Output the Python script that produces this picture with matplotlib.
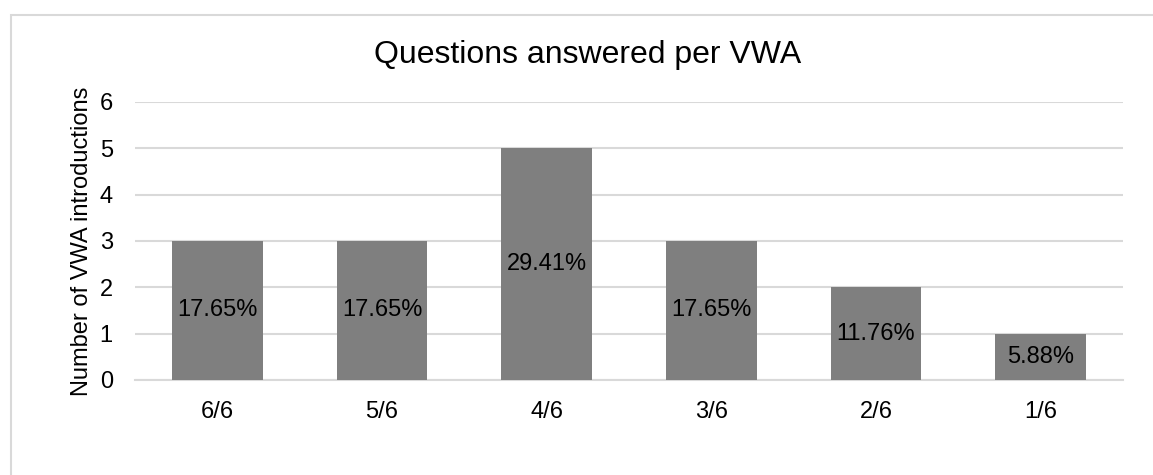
import matplotlib.pyplot as plt
from matplotlib.patches import Rectangle

plt.rcParams['font.family'] = ['Liberation Sans', 'DejaVu Sans']

# answers per introduction
categories = ['6/6', '5/6', '4/6', '3/6', '2/6', '1/6']
counts = [3, 3, 5, 3, 2, 1]

total = sum(counts)
percents = [c / total * 100 for c in counts]

fig = plt.figure(figsize=(11.53, 4.75), dpi=100)
ax = fig.add_axes([0.1171, 0.2, 0.8569, 0.5853])

x = range(len(categories))
bars = ax.bar(x, counts, width=0.55, color='#7f7f7f', zorder=3)

for b, p in zip(bars, percents):
    ax.text(b.get_x() + b.get_width() / 2, b.get_height() / 2, f'{p:.2f}%',
            ha='center', va='center', fontsize=17, color='#000000', zorder=4)

ax.set_xlim(-0.5, len(categories) - 0.5)
ax.set_ylim(0, 6)
ax.set_yticks(range(0, 7))
ax.set_xticks(list(x))
ax.set_xticklabels(categories)
ax.tick_params(axis='both', length=0, labelsize=17, colors='#000000')
ax.tick_params(axis='y', pad=16)
ax.tick_params(axis='x', pad=15)
ax.grid(axis='y', color='#d9d9d9', linewidth=1.5, zorder=0)
for s in ['top', 'right', 'left']:
    ax.spines[s].set_visible(False)
ax.spines['bottom'].set_color('#d9d9d9')
ax.spines['bottom'].set_linewidth(1.5)

ax.set_ylabel('Number of VWA introductions', fontsize=17)
ax.yaxis.set_label_coords(-0.043, 0.5)

fig.text(588 / 1153, 1 - 63 / 475, 'Questions answered per VWA',
         ha='center', va='baseline', fontsize=23)

# chart area frame
fig.patches.append(Rectangle((11 / 1153, -0.1), 1.2, 0.968 + 0.1,
                             transform=fig.transFigure, fill=False,
                             edgecolor='#d9d9d9', linewidth=1.5))

fig.savefig('out.png', dpi=100)
